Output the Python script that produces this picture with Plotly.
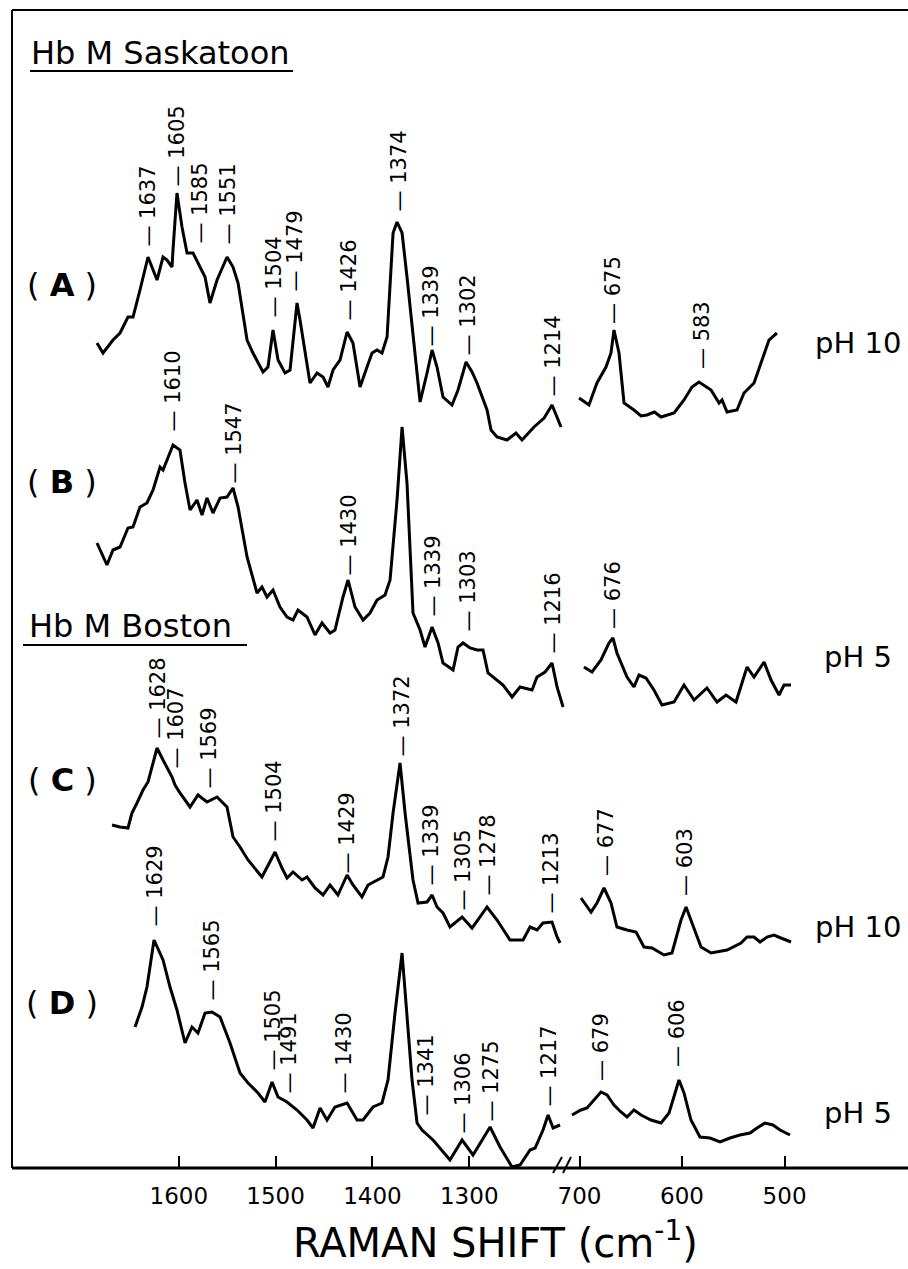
import plotly.graph_objects as go

# ---------------- data ----------------
# Raman shift (cm-1) and stacked intensity (a.u., offset per spectrum)
# High-frequency window (1700-1200 cm-1)
a_hi_wn = [1684.5, 1681.4, 1678.3, 1668.0, 1660.7, 1652.5, 1647.3, 1640.1, 1631.8, 1622.5, 1616.3, 1612.2,
           1607.0, 1606.0, 1601.9, 1596.7, 1591.5, 1585.3, 1578.1, 1572.9, 1567.8, 1560.5, 1550.2, 1544.0,
           1538.8, 1533.7, 1529.5, 1523.4, 1513.0, 1507.9, 1502.7, 1497.5, 1490.3, 1485.1, 1477.9, 1474.8,
           1469.6, 1464.5, 1457.2, 1451.0, 1445.9, 1440.7, 1433.5, 1426.2, 1420.1, 1412.8, 1405.6, 1400.4,
           1395.3, 1390.1, 1384.9, 1378.7, 1374.6, 1369.4, 1364.3, 1358.1, 1350.8, 1343.6, 1338.4, 1333.3,
           1327.1, 1317.8, 1311.6, 1303.3, 1297.1, 1292.0, 1281.6, 1277.5, 1271.3, 1261.0, 1251.7, 1245.5,
           1233.1, 1222.7, 1214.5, 1205.2]
a_hi_int = [825, 820, 815, 828, 835, 851, 851, 878, 911, 888, 911, 908,
            901, 918, 975, 941, 915, 915, 901, 891, 865, 888, 911, 901,
            885, 851, 828, 815, 796, 801, 838, 808, 795, 798, 865, 848,
            815, 785, 795, 791, 781, 798, 808, 836, 825, 781, 801, 815,
            818, 815, 831, 935, 946, 935, 891, 835, 766, 795, 818, 801,
            771, 763, 778, 806, 796, 785, 758, 738, 731, 728, 735, 728,
            741, 750, 763, 741]

b_hi_wn = [1684.5, 1674.2, 1668.0, 1660.7, 1652.5, 1647.3, 1640.1, 1632.9, 1626.6, 1619.4, 1616.3, 1612.2,
           1606.0, 1598.8, 1593.6, 1588.4, 1581.2, 1576.0, 1570.9, 1564.7, 1557.4, 1550.2, 1544.0, 1538.8,
           1529.5, 1519.2, 1514.1, 1508.9, 1502.7, 1495.5, 1488.2, 1482.0, 1476.9, 1467.6, 1459.3, 1452.1,
           1443.8, 1438.7, 1430.4, 1425.2, 1418.0, 1409.7, 1402.5, 1395.3, 1387.0, 1381.8, 1374.6, 1369.4,
           1364.3, 1358.1, 1350.8, 1345.7, 1338.4, 1332.2, 1327.1, 1316.7, 1311.6, 1306.4, 1299.2, 1292.0,
           1285.8, 1280.6, 1265.1, 1255.8, 1247.5, 1235.1, 1230.0, 1221.7, 1214.5, 1209.3, 1203.1]
b_hi_int = [625, 603, 618, 621, 640, 641, 661, 665, 678, 701, 698, 708,
            723, 718, 685, 658, 668, 653, 670, 655, 670, 671, 680, 661,
            611, 575, 581, 571, 578, 561, 551, 548, 558, 551, 533, 545,
            535, 538, 571, 588, 561, 548, 555, 568, 573, 588, 668, 741,
            685, 555, 538, 521, 541, 525, 505, 498, 521, 525, 520, 518,
            518, 495, 483, 471, 481, 478, 491, 496, 505, 481, 461]

c_hi_wn = [1669.0, 1660.7, 1652.5, 1648.4, 1643.2, 1637.0, 1631.8, 1622.5, 1616.3, 1607.0, 1603.9, 1598.8,
           1588.4, 1580.2, 1570.9, 1560.5, 1550.2, 1544.0, 1536.8, 1528.5, 1514.1, 1508.9, 1500.6, 1493.4,
           1488.2, 1482.0, 1472.7, 1467.6, 1459.3, 1451.0, 1443.8, 1435.6, 1426.2, 1420.1, 1410.8, 1404.6,
           1395.3, 1389.1, 1383.9, 1378.7, 1371.5, 1366.3, 1358.1, 1352.9, 1343.6, 1338.4, 1333.3, 1327.1,
           1319.9, 1307.4, 1297.1, 1281.6, 1271.3, 1257.9, 1244.4, 1237.2, 1229.9, 1223.8, 1214.5, 1209.3,
           1206.2]
c_hi_int = [343, 341, 340, 355, 365, 378, 386, 420, 408, 391, 383, 375,
            361, 373, 366, 371, 361, 331, 321, 308, 291, 301, 316, 300,
            290, 296, 288, 291, 280, 273, 283, 273, 293, 283, 271, 283,
            288, 291, 311, 355, 405, 355, 288, 265, 266, 273, 261, 255,
            241, 251, 240, 261, 248, 228, 228, 241, 238, 245, 246, 231,
            225]

d_hi_wn = [1645.2, 1638.0, 1632.9, 1625.6, 1616.3, 1609.1, 1601.9, 1593.6, 1586.4, 1580.2, 1572.9, 1565.7,
           1557.4, 1547.1, 1536.8, 1528.5, 1518.2, 1511.0, 1503.7, 1497.5, 1488.2, 1477.9, 1467.6, 1461.4,
           1454.1, 1446.9, 1438.7, 1426.2, 1415.9, 1409.7, 1399.4, 1390.1, 1383.9, 1376.7, 1369.4, 1364.3,
           1359.1, 1353.9, 1348.8, 1337.4, 1319.9, 1307.4, 1296.1, 1278.5, 1268.2, 1255.8, 1247.5, 1237.2,
           1232.0, 1223.8, 1218.6, 1213.4, 1206.2]
d_hi_int = [141, 161, 181, 228, 208, 181, 158, 125, 141, 135, 155, 156,
            151, 125, 95, 85, 75, 66, 86, 71, 66, 58, 48, 40,
            60, 48, 61, 65, 48, 48, 61, 65, 88, 155, 215, 155,
            88, 45, 38, 28, 8, 28, 13, 41, 21, 1, 3, 18,
            20, 38, 53, 40, 43]

# Low-frequency window (700-500 cm-1)
a_lo_wn = [700.5, 690.8, 683.0, 674.2, 669.3, 666.4, 661.5, 656.6, 646.9, 640.0, 634.2, 627.0, 620.5,
           607.8, 598.1, 590.3, 583.5, 571.7, 563.9, 561.0, 556.1, 546.4, 539.6, 529.8, 523.0, 515.2, 507.4]
a_lo_int = [770, 763, 785, 801, 815, 838, 815, 765, 758, 752, 753, 756, 751,
            755, 768, 781, 786, 778, 765, 768, 756, 758, 775, 785, 805, 828, 835]

b_lo_wn = [695.7, 687.8, 679.1, 671.3, 667.4, 663.5, 653.7, 646.9, 642.0, 635.2, 627.4, 619.6, 607.8,
           598.1, 588.3, 575.7, 565.9, 557.1, 547.4, 536.6, 529.8, 520.0, 513.2, 505.4, 500.5, 493.7]
b_lo_int = [501, 496, 508, 525, 530, 515, 491, 481, 493, 490, 478, 463, 466,
            483, 468, 480, 466, 473, 466, 501, 491, 506, 488, 473, 483, 483]

c_lo_wn = [698.6, 688.8, 683.0, 676.1, 669.3, 663.5, 653.7, 644.9, 637.1, 629.3, 617.6, 609.8, 601.0,
           596.1, 590.3, 581.5, 571.7, 556.1, 542.5, 536.6, 529.8, 523.9, 517.1, 510.3, 503.5, 493.7]
c_lo_int = [270, 256, 265, 280, 265, 241, 238, 236, 221, 220, 213, 215, 248,
            261, 245, 221, 215, 218, 225, 231, 231, 226, 231, 233, 230, 226]

d_lo_wn = [707.4, 698.6, 692.7, 685.9, 679.1, 673.2, 666.4, 659.6, 653.7, 646.9, 640.0, 630.3, 620.5,
           612.7, 607.8, 603.0, 598.1, 591.3, 582.5, 572.7, 563.0, 553.2, 543.5, 533.7, 526.9, 519.1,
           511.3, 504.4, 494.7]
d_lo_int = [53, 58, 60, 68, 76, 73, 63, 56, 51, 58, 53, 48, 45,
            55, 71, 88, 75, 48, 31, 30, 26, 30, 33, 35, 40, 45,
            43, 38, 33]

# Peak assignments: label value, label wavenumber position, label base level
a_peaks = [1637, 1605, 1585, 1551, 1504, 1479, 1426, 1374, 1339, 1302, 1214, 675, 583]
a_peak_wn = [1632.8, 1602.9, 1579.1, 1549.2, 1501.7, 1480.0, 1425.2, 1373.6, 1340.5, 1302.3, 1214.5, 667.4, 580.5]
a_peak_lvl = [920, 980, 923, 923, 850, 876, 846, 955, 820, 811, 770, 843, 798]

b_peaks = [1610, 1547, 1430, 1339, 1303, 1216, 676]
b_peak_wn = [1607.0, 1544.0, 1425.2, 1338.4, 1302.3, 1214.5, 667.4]
b_peak_lvl = [735, 683, 591, 550, 535, 513, 538]

c_peaks = [1628, 1607, 1569, 1504, 1429, 1372, 1339, 1305, 1278, 1213, 677, 603]
c_peak_wn = [1622.5, 1603.9, 1569.8, 1501.7, 1427.3, 1370.5, 1340.5, 1307.4, 1281.6, 1216.5, 674.2, 597.1]
c_peak_lvl = [428, 398, 378, 326, 293, 410, 281, 256, 271, 253, 291, 271]

d_peaks = [1629, 1565, 1505, 1491, 1430, 1341, 1306, 1275, 1217, 679, 606]
d_peak_wn = [1624.6, 1566.7, 1503.7, 1487.2, 1430.4, 1345.7, 1307.4, 1278.5, 1218.6, 679.1, 604.9]
d_peak_lvl = [241, 166, 96, 73, 73, 51, 33, 45, 60, 86, 100]

panel_letters = ["A", "B", "C", "D"]
ph_labels = ["pH 10", "pH 5", "pH 10", "pH 5"]
hi_ticks = [1600, 1500, 1400, 1300]
lo_ticks = [700, 600, 500]
species = ["Hb M Saskatoon", "Hb M Boston"]

# ---------------- figure ----------------
FONT = "DejaVu Sans"
W, H = 908, 1269
ML, MR, MT, MB = 12, 0, 10, 101
PW, PH = W - ML - MR, H - MT - MB


def px(xp):
    return (xp - ML) / PW


def py(yp):
    return (H - MB - yp) / PH


fig = go.Figure()
line = dict(color="black", width=3)
spectra = [
    (a_hi_wn, a_hi_int, a_lo_wn, a_lo_int),
    (b_hi_wn, b_hi_int, b_lo_wn, b_lo_int),
    (c_hi_wn, c_hi_int, c_lo_wn, c_lo_int),
    (d_hi_wn, d_hi_int, d_lo_wn, d_lo_int),
]
for hw, hi, lw, li in spectra:
    fig.add_trace(go.Scatter(x=hw, y=hi, mode="lines", line=line, xaxis="x", yaxis="y",
                             hoverinfo="skip"))
    fig.add_trace(go.Scatter(x=lw, y=li, mode="lines", line=line, xaxis="x2", yaxis="y",
                             hoverinfo="skip"))

annotations = []
for peaks, pwn, plvl in [(a_peaks, a_peak_wn, a_peak_lvl), (b_peaks, b_peak_wn, b_peak_lvl),
                         (c_peaks, c_peak_wn, c_peak_lvl), (d_peaks, d_peak_wn, d_peak_lvl)]:
    for val, wn, lvl in zip(peaks, pwn, plvl):
        annotations.append(dict(
            x=wn, y=lvl, xref="x" if wn > 1000 else "x2", yref="y",
            text="\u2014 " + str(val), textangle=-90, showarrow=False,
            xanchor="center", yanchor="bottom", borderpad=0,
            font=dict(family=FONT, size=21, color="black")))

letter_y = [285, 482, 780, 1003]
ph_y = [343, 657, 927, 1113]
for letter, ly in zip(panel_letters, letter_y):
    annotations.append(dict(x=px(62), y=py(ly), xref="paper", yref="paper",
                            text="( <b>" + letter + "</b> )", showarrow=False,
                            xanchor="center", yanchor="middle",
                            font=dict(family=FONT, size=32, color="black")))
for lab, ly in zip(ph_labels, ph_y):
    annotations.append(dict(x=px(858), y=py(ly), xref="paper", yref="paper",
                            text=lab, showarrow=False, xanchor="center", yanchor="middle",
                            font=dict(family=FONT, size=29, color="black")))

annotations.append(dict(x=px(29), y=py(53), xref="paper", yref="paper", text=species[0],
                        showarrow=False, xanchor="left", yanchor="middle",
                        font=dict(family=FONT, size=32, color="black")))
annotations.append(dict(x=px(27), y=py(626), xref="paper", yref="paper", text=species[1],
                        showarrow=False, xanchor="left", yanchor="middle",
                        font=dict(family=FONT, size=32, color="black")))
annotations.append(dict(x=px(495), y=py(1240), xref="paper", yref="paper",
                        text="RAMAN SHIFT (cm<sup>-1</sup>)", showarrow=False,
                        xanchor="center", yanchor="middle",
                        font=dict(family=FONT, size=40, color="black")))

shapes = []
blk = dict(color="black", width=2)
# frame: left, top, bottom axis line
shapes.append(dict(type="line", xref="paper", yref="paper", x0=0, x1=0, y0=0, y1=1, line=blk))
shapes.append(dict(type="line", xref="paper", yref="paper", x0=0, x1=1, y0=1, y1=1, line=blk))
shapes.append(dict(type="line", xref="paper", yref="paper", x0=0, x1=1, y0=0, y1=0,
                   line=dict(color="black", width=3)))
# axis break marks
for xa, xb in [(553, 562), (563, 571)]:
    shapes.append(dict(type="line", xref="paper", yref="paper", x0=px(xa), x1=px(xb),
                       y0=py(1173), y1=py(1157), line=dict(color="black", width=2)))
# underlines of species names
shapes.append(dict(type="line", xref="paper", yref="paper", x0=px(30), x1=px(293),
                   y0=py(71), y1=py(71), line=blk))
shapes.append(dict(type="line", xref="paper", yref="paper", x0=px(23), x1=px(247),
                   y0=py(645), y1=py(645), line=blk))

axis_common = dict(showgrid=False, zeroline=False, showline=False, ticks="inside", ticklen=12,
                   tickwidth=2, tickcolor="black", ticklabelstandoff=12,
                   tickfont=dict(family=FONT, size=23, color="black"), anchor="y")

fig.update_layout(
    width=W, height=H, margin=dict(l=ML, r=MR, t=MT, b=MB),
    paper_bgcolor="white", plot_bgcolor="white", showlegend=False,
    xaxis=dict(domain=[0, px(565)], range=[1772.3, 1201.1], tickvals=hi_ticks, **axis_common),
    xaxis2=dict(domain=[px(570), 1], range=[709.3, 379.6], tickvals=lo_ticks, **axis_common),
    yaxis=dict(range=[0, PH], visible=False),
    annotations=annotations, shapes=shapes,
)

fig.write_html("out.html")
